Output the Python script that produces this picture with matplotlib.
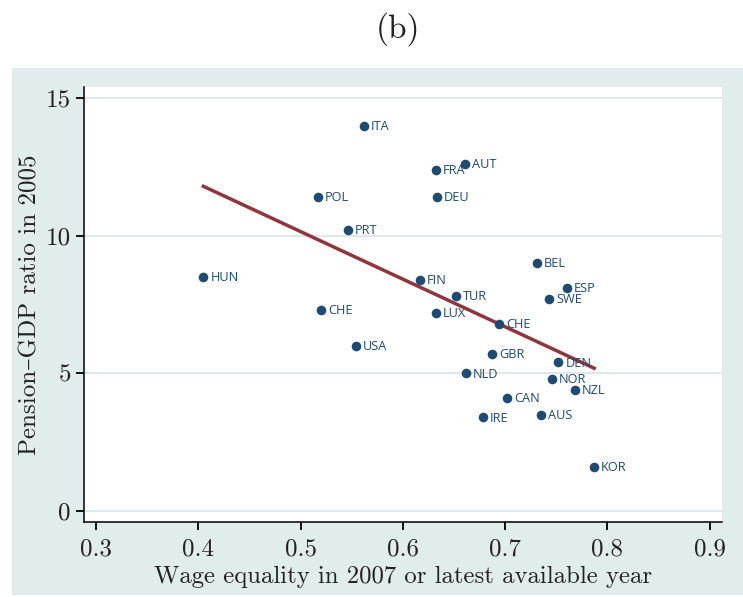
import numpy as np
import matplotlib
matplotlib.use("Agg")
import matplotlib.pyplot as plt
from matplotlib.patches import Rectangle

plt.rcParams['font.family'] = ['cmr10', 'DejaVu Serif']
plt.rcParams['axes.formatter.use_mathtext'] = True

countries = ["ITA", "AUT", "FRA", "POL", "DEU", "PRT", "HUN", "FIN", "BEL", "ESP",
             "SWE", "TUR", "CHE", "LUX", "CHE", "USA", "GBR", "DEN", "NLD", "NOR",
             "NZL", "CAN", "AUS", "IRE", "KOR"]
wage_eq = [0.562, 0.661, 0.632, 0.517, 0.633, 0.546, 0.405, 0.617, 0.731, 0.760,
           0.743, 0.652, 0.520, 0.632, 0.694, 0.554, 0.687, 0.752, 0.662, 0.746,
           0.768, 0.702, 0.735, 0.678, 0.787]
pension = [14.0, 12.6, 12.4, 11.4, 11.4, 10.2, 8.5, 8.4, 9.0, 8.1,
           7.7, 7.8, 7.3, 7.2, 6.8, 6.0, 5.7, 5.4, 5.0, 4.8,
           4.4, 4.1, 3.5, 3.4, 1.6]

x_ticks = [0.3, 0.4, 0.5, 0.6, 0.7, 0.8, 0.9]
y_ticks = [0, 5, 10, 15]

navy = '#1f4b72'
maroon = '#90353b'
panel = '#e1ecec'

fig = plt.figure(figsize=(7.43, 5.97), dpi=100)
fig.patch.set_facecolor('white')
fig.patches.append(Rectangle((12/743, 0.004), 1.0, 0.886 - 0.004,
                             transform=fig.transFigure, facecolor=panel,
                             edgecolor='none', zorder=-5))

ax = fig.add_axes([84/743, 1 - 522/597, (722 - 84)/743, (522 - 87)/597])
ax.set_zorder(2)
ax.set_facecolor('white')

x = np.array(wage_eq)
y = np.array(pension)
b, a = np.polyfit(x, y, 1)
xs = np.array([x.min(), x.max()])

ax.scatter(x, y, s=48, color=navy, zorder=3, linewidths=0)
for name, xi, yi in zip(countries, x, y):
    ax.annotate(name, (xi, yi), xytext=(5, -0.5), textcoords='offset points',
                va='center', ha='left', fontsize=9.2, color=navy,
                family='Open Sans', zorder=4)
ax.plot(xs, a + b * xs, color=maroon, lw=2.5, zorder=2)

ax.set_xlim(0.2883, 0.912)
ax.set_ylim(-0.4, 15.4)
ax.set_xticks(x_ticks)
ax.set_xticklabels([f"{v:.1f}" for v in x_ticks])
ax.set_yticks(y_ticks)
ax.set_yticklabels([str(v) for v in y_ticks])
ax.tick_params(axis='both', labelsize=18, direction='out', length=6, width=1.3,
               color='black', labelcolor='#222222')
ax.tick_params(axis='x', pad=6)
ax.grid(axis='y', color='#dae7ea', lw=1.3, zorder=0)
ax.set_axisbelow(True)
for s in ['top', 'right']:
    ax.spines[s].set_visible(False)
for s in ['left', 'bottom']:
    ax.spines[s].set_linewidth(1.1)

ax.set_xlabel("Wage equality in 2007 or latest available year", fontsize=17.8,
              color='#222222')
ax.set_ylabel("Pension\u2013GDP ratio in 2005", fontsize=18, color='#222222')
ax.xaxis.set_label_coords(0.5, -0.102)
ax.yaxis.set_label_coords(-0.066, 0.5)

fig.text(398/743, 1 - 29/597, "(b)", ha='center', va='center', fontsize=24,
         color='#222222')

fig.savefig("out.png", dpi=100)
